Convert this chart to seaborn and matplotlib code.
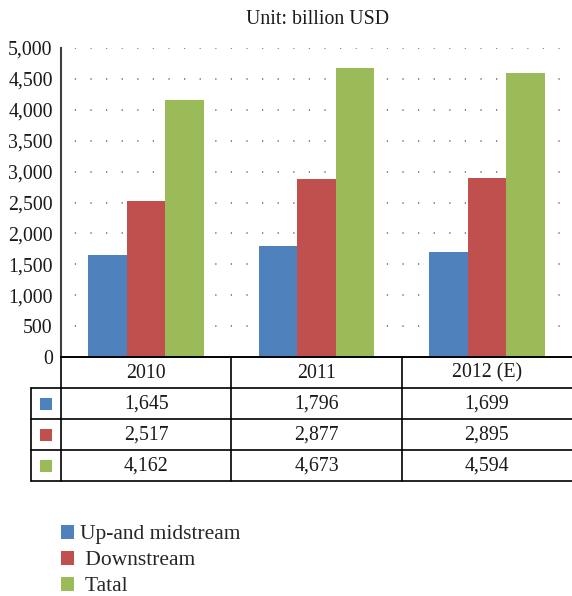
import matplotlib
matplotlib.use("Agg")
import matplotlib.pyplot as plt
import matplotlib.transforms as mtransforms
from matplotlib.lines import Line2D
from matplotlib.patches import Rectangle
import seaborn as sns
import pandas as pd

years = ["2010", "2011", "2012 (E)"]
series = ["Up-and midstream", "Downstream", "Tatal"]
legend_labels = ["Up-and midstream", " Downstream", " Tatal"]
up_mid = [1645, 1796, 1699]
downstream = [2517, 2877, 2895]
total = [4162, 4673, 4594]
colors = ["#4F81BD", "#C0504D", "#9BBB59"]
yticks = [0, 500, 1000, 1500, 2000, 2500, 3000, 3500, 4000, 4500, 5000]

values = [up_mid, downstream, total]
rows = []
for s, vals in zip(series, values):
    for y, v in zip(years, vals):
        rows.append({"year": y, "series": s, "value": v})
df = pd.DataFrame(rows)

sns.set_theme(style="white")
plt.rcParams["font.family"] = ["Liberation Serif", "DejaVu Serif"]

FS = 14.3
W, H = 572, 596
fig = plt.figure(figsize=(W / 100, H / 100), dpi=100)

def fy(py):
    return 1 - py / H

def fx(px):
    return px / W

ax_left, ax_right, ax_top, ax_bot = 61, 572, 48, 357
ax = fig.add_axes([fx(ax_left), fy(ax_bot), fx(ax_right - ax_left), (ax_bot - ax_top) / H])

sns.barplot(data=df, x="year", y="value", hue="series", palette=colors,
            width=0.68, gap=0, saturation=1, ax=ax, legend=True, linewidth=0)

ax.set_xlim(-0.5, 2.5)
ax.set_ylim(0, 5000)
ax.set_yticks(yticks)
ax.set_yticklabels([f"{v:,}" for v in yticks], fontsize=FS, color="#1a1a1a")
ax.tick_params(axis="y", length=0, pad=6)
ax.set_xticks([])
ax.set_xlabel("")
ax.set_ylabel("")
for sp in ["top", "right"]:
    ax.spines[sp].set_visible(False)
ax.spines["left"].set_color("#404040")
ax.spines["left"].set_linewidth(1.5)
ax.spines["bottom"].set_color("black")
ax.spines["bottom"].set_linewidth(1.2)
ax.set_axisbelow(True)
for v in yticks[1:]:
    ax.axhline(v, color="#808080", linewidth=1.3, linestyle=(1.0, (0.7, 7.94)), zorder=0)

# legend
handles, labels = ax.get_legend_handles_labels()
ax.get_legend().remove()
leg = fig.legend(handles, legend_labels, loc="upper left",
                 bbox_to_anchor=(fx(52), fy(516)), frameon=False,
                 handlelength=0.62, handleheight=0.62,
                 handletextpad=0.3, labelspacing=0.3, borderaxespad=0,
                 prop={"family": ["Liberation Serif"], "size": 15.5})

# title
fig.text(fx(317), fy(19.5), "Unit: billion USD", ha="center", va="center", fontsize=FS, color="#1a1a1a")

# data table
trans = mtransforms.blended_transform_factory(ax.transData, fig.transFigure)
row_lines = [357, 388, 419, 450, 481]
lw = 1.2
for i, py in enumerate(row_lines):
    x0 = ax_left if i == 0 else 31
    fig.add_artist(Line2D([fx(x0), fx(572)], [fy(py), fy(py)], color="black", lw=lw))
fig.add_artist(Line2D([fx(31), fx(31)], [fy(388), fy(481)], color="black", lw=lw))
for b in [-0.5, 0.5, 1.5]:
    fig.add_artist(Line2D([b, b], [fy(357), fy(481)], color="black", lw=lw, transform=trans))
for i, y in enumerate(years):
    fig.text(i, fy(373), y, transform=trans, ha="center", va="center", fontsize=FS, color="#1a1a1a")
for r, (vals, c) in enumerate(zip(values, colors)):
    cy = (row_lines[r + 1] + row_lines[r + 2]) / 2
    fig.add_artist(Rectangle((fx(40), fy(cy + 6)), fx(12), 12 / H, facecolor=c, edgecolor="none"))
    for i, v in enumerate(vals):
        fig.text(i, fy(cy + 0.5), f"{v:,}", transform=trans, ha="center", va="center",
                 fontsize=FS, color="#1a1a1a")

fig.savefig("out.png", dpi=100)
